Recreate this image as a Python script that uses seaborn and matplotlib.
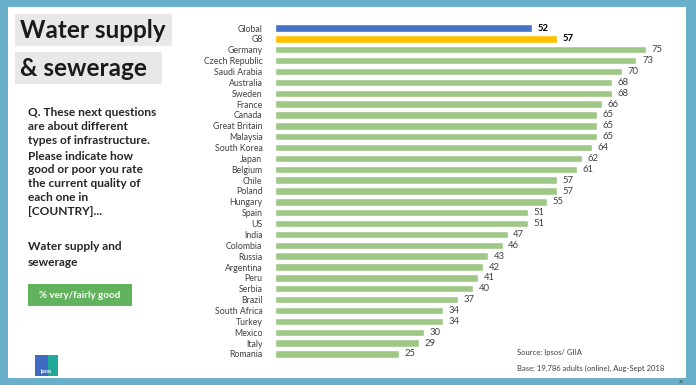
import matplotlib

matplotlib.use("Agg")
import matplotlib.pyplot as plt
import pandas as pd
import seaborn as sns
from matplotlib.patches import Rectangle

countries = [
    "Global", "G8", "Germany", "Czech Republic", "Saudi Arabia", "Australia",
    "Sweden", "France", "Canada", "Great Britain", "Malaysia", "South Korea",
    "Japan", "Belgium", "Chile", "Poland", "Hungary", "Spain", "US", "India",
    "Colombia", "Russia", "Argentina", "Peru", "Serbia", "Brazil",
    "South Africa", "Turkey", "Mexico", "Italy", "Romania",
]
values = [
    52, 57, 75, 73, 70, 68, 68, 66, 65, 65, 65, 64, 62, 61, 57, 57, 55, 51,
    51, 47, 46, 43, 42, 41, 40, 37, 34, 34, 30, 29, 25,
]
groups = ["global", "g8"] + ["country"] * (len(countries) - 2)

BORDER = "#6aafc9"
BLUE = "#4472c4"
GOLD = "#ffc000"
GREEN = "#9fc886"

sns.set_style("white")
plt.rcParams["font.family"] = ["Lato", "DejaVu Sans"]

df = pd.DataFrame({"country": countries, "value": values, "group": groups})

fig = plt.figure(figsize=(6.96, 3.85), dpi=100, facecolor=BORDER)
W, H = 696, 385


def fx(px):
    return px / W


def fy(py):
    return 1 - py / H


def box(x0, y0, x1, y1, color, z=1):
    fig.patches.append(Rectangle((fx(x0), fy(y1)), fx(x1) - fx(x0), fy(y0) - fy(y1),
                                 transform=fig.transFigure, facecolor=color,
                                 edgecolor="none", zorder=z))


# white slide area
box(8, 7, 686, 378, "white", z=-5)

ax = fig.add_axes([fx(275), fy(359.4), fx(686) - fx(275), fy(22.6) - fy(359.4)])
ax.set_facecolor("none")
sns.barplot(data=df, x="value", y="country", hue="group",
            palette={"global": BLUE, "g8": GOLD, "country": GREEN},
            dodge=False, legend=False, width=0.68, ax=ax, saturation=1)
ax.set_xlim(0, 83)
ax.set_ylim(len(countries) - 0.5, -0.5)
sns.despine(ax=ax, left=True, bottom=True)
ax.set_xticks([])
ax.set_xlabel("")
ax.set_ylabel("")
ax.tick_params(axis="y", length=0, pad=9, labelsize=6.3, labelcolor="#404040")

for cont in ax.containers:
    labels = ax.bar_label(cont, padding=4, fontsize=6.8, color="#404040")
    for bar, t in zip(cont, labels):
        if bar.get_facecolor()[:3] != matplotlib.colors.to_rgb(GREEN):
            t.set_fontweight("bold")
            t.set_color("black")

# title boxes
for text, y0, y1, x1 in [("Water supply", 14, 46, 172), ("& sewerage", 52, 84, 162)]:
    box(15, y0, x1, y1, "#e8e8e8")
    fig.text(fx(20), fy((y0 + y1) / 2 + 1), text, fontsize=17.5, fontweight="bold",
             color="#1a1a1a", va="center", ha="left")

question = [
    ("Q. These next questions", 113), ("are about different", 126),
    ("types of infrastructure.", 140), ("Please indicate how", 156),
    ("good or poor you rate", 170), ("the current quality of", 184),
    ("each one in", 198), ("[COUNTRY]...", 212),
    ("Water supply and", 247), ("sewerage", 262),
]
for line, y in question:
    fig.text(fx(28), fy(y), line, fontsize=8.6, fontweight="bold",
             color="#262626", va="center", ha="left")

box(28, 284, 132, 306, "#62b15c")
fig.text(fx(80), fy(295.5), "% very/fairly good", fontsize=7, fontweight="bold",
         color="white", va="center", ha="center")

fig.text(fx(517), fy(353), "Source: Ipsos/ GIIA", fontsize=5.5, color="#404040",
         va="center", ha="left")
fig.text(fx(517), fy(368), "Base: 19,786 adults (online), Aug-Sept 2018", fontsize=5.5,
         color="#404040", va="center", ha="left")
fig.text(fx(681), fy(382), "28", fontsize=3, color="#333333", va="center", ha="center")

# logo
box(35, 355, 48, 376, "#3f6cc0")
box(48, 355, 58, 376, "#1fa99a")
fig.text(fx(46.5), fy(371), "Ipsos", fontsize=3.6, fontweight="bold", color="white",
         va="center", ha="center", zorder=3)

fig.savefig("out.png", dpi=100, facecolor=BORDER)
